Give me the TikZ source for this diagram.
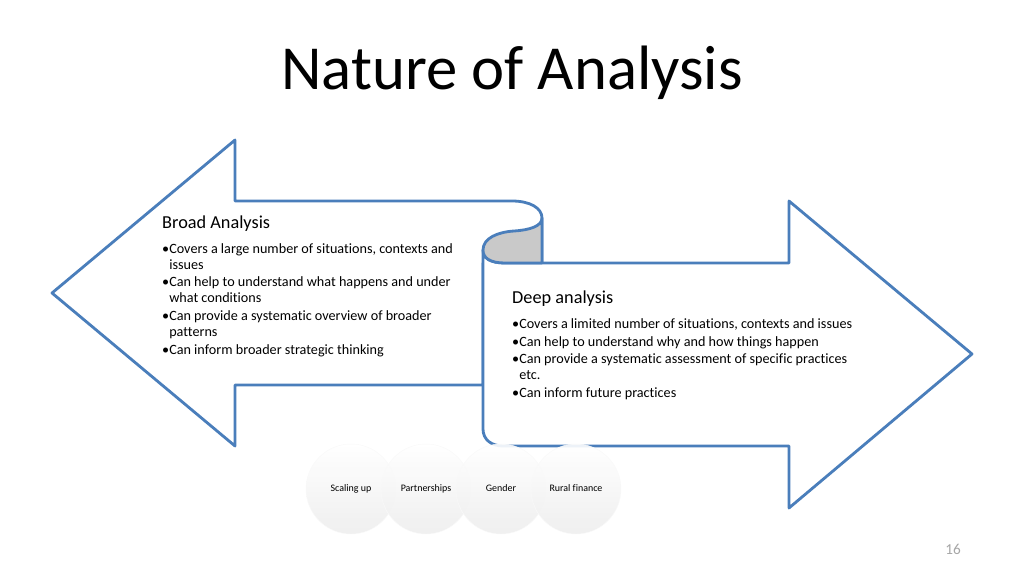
\documentclass[tikz,border=0pt]{standalone}
\usepackage{fontspec}
\setmainfont{Carlito}[Ligatures=CommonOff]
\usepackage{xcolor}
\usepackage{tikz}
\usetikzlibrary{positioning}
\definecolor{arrowblue}{HTML}{4A7EBB}
\definecolor{scrollgrey}{HTML}{C9C9C9}
\tikzset{bigarrow/.style={draw=arrowblue, line width=2.4pt, fill=white, line join=round}}
\tikzset{curl/.style={draw=arrowblue, line width=2.4pt, fill=scrollgrey, line join=round}}
\tikzset{heading/.style={anchor=base west, inner sep=0pt, font=\fontsize{15.6}{18}\selectfont}}
\tikzset{points/.style={anchor=north west, inner sep=0pt, align=left, font=\fontsize{12.1}{13.6}\selectfont}}
\tikzset{topic/.style={circle, minimum size=2.7cm, inner sep=0pt, text height=6pt, text depth=2pt, top color=white, bottom color=gray!14, draw=gray!5, fill opacity=0.9, text opacity=1, font=\fontsize{8.5}{10}\selectfont}}
\newcommand{\bitem}{\makebox[6pt][l]{\textbullet}}
\newcommand{\bcont}{\hspace*{6pt}}

\begin{document}
\begin{tikzpicture}[x=0.03cm, y=-0.03cm]
		\useasboundingbox (0,0) rectangle (1024,576);
		\node[font=\fontsize{53.5}{60}\selectfont] at (512,73) (title) {Nature of Analysis};

		% broad analysis, pointing left
		\draw[bigarrow] (52,293) -- (235,140) -- (235,201) -- (512,201)
			.. controls (530,201) and (542,208) .. (542,218) -- (542,263)
			-- (483,263) -- (483,385) -- (235,385) -- (235,446) -- cycle;
		% deep analysis, pointing right
		\draw[bigarrow] (505,263) .. controls (490,263) and (483,258) .. (483,250)
			-- (483,429) .. controls (483,440) and (492,446) .. (503,446)
			-- (789,446) -- (789,508) -- (972,354) -- (789,201) -- (789,263) -- cycle;
		\draw[curl] (483,250) .. controls (483,238) and (498,232) .. (514,231)
			.. controls (530,230) and (542,226) .. (542,218) -- (542,263) -- (505,263)
			.. controls (490,263) and (483,258) .. (483,250) -- cycle;

		\node[heading] at (162,228) (broad) {Broad Analysis};
		\node[points] at (162,243) (broadlist) {\bitem Covers a large number of situations, contexts and\\
			\bcont issues\\[1.7pt]
			\bitem Can help to understand what happens and under\\
			\bcont what conditions\\[1.7pt]
			\bitem Can provide a systematic overview of broader\\
			\bcont patterns\\[1.7pt]
			\bitem Can inform broader strategic thinking};

		\node[heading] at (512,303) (deep) {Deep analysis};
		\node[points] at (512,318) (deeplist) {\bitem Covers a limited number of situations, contexts and issues\\[1.7pt]
			\bitem Can help to understand why and how things happen\\[1.7pt]
			\bitem Can provide a systematic assessment of specific practices\\
			\bcont etc.\\[1.7pt]
			\bitem Can inform future practices};

		\node[topic] at (351,489) (scaling) {Scaling up};
		\node[topic] at (426,489) (partners) {Partnerships};
		\node[topic] at (501,489) (gender) {Gender};
		\node[topic] at (576,489) (finance) {Rural finance};

		\node[text=gray!70, font=\fontsize{13}{15}\selectfont] at (953,549) (page) {16};
		\end{tikzpicture}
\end{document}
